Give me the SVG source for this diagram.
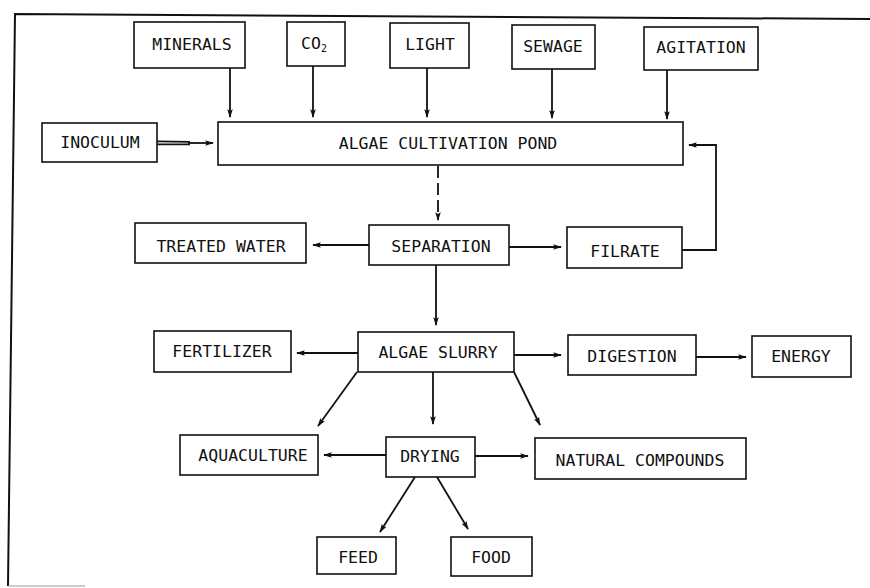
<svg xmlns="http://www.w3.org/2000/svg" width="870" height="588" viewBox="0 0 870 588">
<defs>
<marker id="ah" viewBox="0 0 10 8" refX="9" refY="4" markerWidth="9" markerHeight="7" markerUnits="userSpaceOnUse" orient="auto">
<path d="M0,0.8 L10,4 L0,7.2 L2,4 Z" fill="#111"/>
</marker>
<style>
.box{fill:#fff;stroke:#111;stroke-width:1.6}
.lbl{font-family:"DejaVu Sans Mono","Liberation Mono",monospace;font-size:16.5px;fill:#111;text-anchor:middle}
.sub{font-size:10px}
.c{fill:none;stroke:#111;stroke-width:1.8}
.frame{fill:none;stroke:#111;stroke-width:2}
</style>
</defs>
<rect width="870" height="588" fill="#fff"/>
<path class="frame" d="M8,586 L15,14 L870,19"/>
<line x1="8" y1="586" x2="85" y2="586" stroke="#999" stroke-width="1.2"/>

<g id="minerals"><rect class="box" x="134" y="22" width="111" height="46"/><text class="lbl" x="192" y="50">MINERALS</text></g>
<g id="co2"><rect class="box" x="287" y="22" width="58" height="44"/><text class="lbl" x="314" y="49">CO<tspan class="sub" dy="3">2</tspan></text></g>
<g id="light"><rect class="box" x="390" y="23" width="79" height="45"/><text class="lbl" x="430" y="50">LIGHT</text></g>
<g id="sewage"><rect class="box" x="512" y="25" width="83" height="44"/><text class="lbl" x="553" y="52">SEWAGE</text></g>
<g id="agitation"><rect class="box" x="644" y="27" width="114" height="43"/><text class="lbl" x="701" y="53">AGITATION</text></g>
<g id="inoculum"><rect class="box" x="42" y="123" width="115" height="39"/><text class="lbl" x="100" y="148">INOCULUM</text></g>
<g id="pond"><rect class="box" x="218" y="122" width="465" height="43"/><text class="lbl" x="448" y="149">ALGAE CULTIVATION POND</text></g>
<g id="treated-water"><rect class="box" x="135" y="223" width="171" height="40"/><text class="lbl" x="221" y="252">TREATED WATER</text></g>
<g id="separation"><rect class="box" x="369" y="225" width="140" height="40"/><text class="lbl" x="441" y="252">SEPARATION</text></g>
<g id="filrate"><rect class="box" x="567" y="227" width="115" height="41"/><text class="lbl" x="625" y="257">FILRATE</text></g>
<g id="fertilizer"><rect class="box" x="154" y="331" width="137" height="41"/><text class="lbl" x="222" y="357">FERTILIZER</text></g>
<g id="algae-slurry"><rect class="box" x="358" y="332" width="156" height="40"/><text class="lbl" x="438" y="358">ALGAE SLURRY</text></g>
<g id="digestion"><rect class="box" x="568" y="335" width="128" height="40"/><text class="lbl" x="632" y="362">DIGESTION</text></g>
<g id="energy"><rect class="box" x="752" y="336" width="99" height="41"/><text class="lbl" x="801" y="362">ENERGY</text></g>
<g id="aquaculture"><rect class="box" x="180" y="435" width="138" height="40"/><text class="lbl" x="253" y="461">AQUACULTURE</text></g>
<g id="drying"><rect class="box" x="386" y="437" width="89" height="40"/><text class="lbl" x="430" y="462">DRYING</text></g>
<g id="natural-compounds"><rect class="box" x="535" y="438" width="211" height="41"/><text class="lbl" x="640" y="466">NATURAL COMPOUNDS</text></g>
<g id="feed"><rect class="box" x="317" y="537" width="79" height="37"/><text class="lbl" x="358" y="563">FEED</text></g>
<g id="food"><rect class="box" x="451" y="537" width="81" height="39"/><text class="lbl" x="491" y="563">FOOD</text></g>

<g id="connectors">
<line class="c" x1="230" y1="68" x2="230" y2="117" marker-end="url(#ah)"/>
<line class="c" x1="313" y1="66" x2="313" y2="117" marker-end="url(#ah)"/>
<line class="c" x1="427" y1="68" x2="427" y2="117" marker-end="url(#ah)"/>
<line class="c" x1="552" y1="69" x2="552" y2="118" marker-end="url(#ah)"/>
<line class="c" x1="667" y1="70" x2="667" y2="119" marker-end="url(#ah)"/>
<line class="c" x1="157" y1="141.3" x2="190" y2="141.8" stroke-width="1.4"/>
<line class="c" x1="157" y1="144.3" x2="190" y2="144.3" stroke-width="1.4"/>
<line class="c" x1="188" y1="143" x2="213" y2="143" marker-end="url(#ah)"/>
<line class="c" x1="438" y1="166" x2="438" y2="220" stroke-dasharray="12 5" marker-end="url(#ah)"/>
<path class="c" d="M682,250 H716 V145 H689" marker-end="url(#ah)"/>
<line class="c" x1="369" y1="245" x2="313" y2="245" marker-end="url(#ah)"/>
<line class="c" x1="509" y1="247" x2="561" y2="247" marker-end="url(#ah)"/>
<line class="c" x1="436" y1="265" x2="436" y2="325" marker-end="url(#ah)"/>
<line class="c" x1="358" y1="353" x2="297" y2="353" marker-end="url(#ah)"/>
<line class="c" x1="514" y1="355" x2="561" y2="355" marker-end="url(#ah)"/>
<line class="c" x1="696" y1="357" x2="746" y2="357" marker-end="url(#ah)"/>
<line class="c" x1="357" y1="372" x2="318" y2="426" marker-end="url(#ah)"/>
<line class="c" x1="433" y1="372" x2="433" y2="424" marker-end="url(#ah)"/>
<line class="c" x1="514" y1="372" x2="540" y2="425" marker-end="url(#ah)"/>
<line class="c" x1="386" y1="455" x2="324" y2="455" marker-end="url(#ah)"/>
<line class="c" x1="475" y1="456" x2="528" y2="456" marker-end="url(#ah)"/>
<line class="c" x1="415" y1="477" x2="380" y2="532" marker-end="url(#ah)"/>
<line class="c" x1="437" y1="477" x2="468" y2="529" marker-end="url(#ah)"/>
</g>
</svg>
